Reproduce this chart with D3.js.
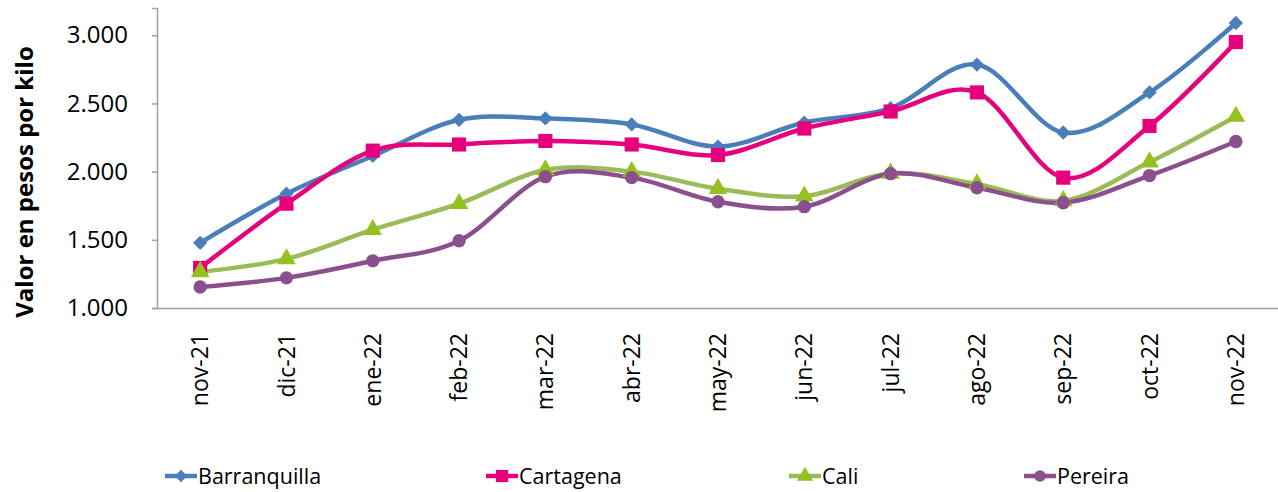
<!DOCTYPE html>
<html>
<head>
<meta charset="utf-8">
<script src="https://cdn.jsdelivr.net/npm/d3@7"></script>
<style>
  body { margin: 0; background: #fff; }
  text { font-family: "Open Sans", sans-serif; fill: #000; }
</style>
</head>
<body>
<svg></svg>
<script>
let width = 1278;
let height = 492;

// data
let months = ['nov-21','dic-21','ene-22','feb-22','mar-22','abr-22','may-22',
              'jun-22','jul-22','ago-22','sep-22','oct-22','nov-22'];
let barranquilla = [1478, 1838, 2115, 2380, 2390, 2346, 2184, 2360, 2465, 2785, 2287, 2581, 3090];
let cartagena    = [1294, 1765, 2154, 2199, 2225, 2199, 2122, 2316, 2441, 2581, 1956, 2335, 2950];
let cali         = [1265, 1360, 1574, 1765, 2012, 2000, 1875, 1820, 1988, 1910, 1787, 2070, 2405];
let pereira      = [1154, 1221, 1346, 1493, 1963, 1956, 1779, 1743, 1985, 1882, 1772, 1971, 2221];
let yTicks = [1000, 1500, 2000, 2500, 3000];

let series = [
  {name: 'Barranquilla', values: barranquilla, line: '#4a7ebb', mark: '#4a7ebb', shape: d3.symbolDiamond2, size: 130},
  {name: 'Cartagena',    values: cartagena,    line: '#e6007e', mark: '#e6007e', shape: d3.symbolSquare,  size: 200},
  {name: 'Cali',         values: cali,         line: '#9bbb59', mark: '#94c11f', shape: d3.symbolTriangle, size: 150},
  {name: 'Pereira',      values: pereira,      line: '#8c4f8e', mark: '#8c4f8e', shape: d3.symbolCircle,  size: 140}
];

let svg = d3.select('svg')
            .attr('width', width)
            .attr('height', height);

let x = d3.scaleBand()
          .domain(months)
          .range([157, 1279]);

let y = d3.scaleLinear()
          .domain([1000, 3200])
          .range([308, 8]);

// y axis
let yAxis = d3.axisLeft(y)
              .tickValues(yTicks)
              .tickSize(5)
              .tickFormat(d => d3.format(',')(d).replace(',', '.'));

let gy = svg.append('g')
            .attr('transform', 'translate(157,0)')
            .call(yAxis);
gy.select('.domain').attr('stroke', '#a0a0a0').attr('stroke-width', 1.5);
gy.selectAll('.tick line').attr('stroke', '#a0a0a0').attr('stroke-width', 1.5);
gy.selectAll('.tick text')
  .attr('x', -29)
  .style('font-size', '24px')
  .style('font-family', '"Open Sans", sans-serif');

// x axis
let xAxis = d3.axisBottom(x).tickSize(0);
let gx = svg.append('g')
            .attr('transform', 'translate(0,308)')
            .call(xAxis);
gx.select('.domain').attr('stroke', '#a0a0a0').attr('stroke-width', 1.5);
gx.selectAll('.tick text')
  .attr('transform', 'rotate(-90)')
  .attr('x', -25)
  .attr('y', 0)
  .attr('dy', '0.35em')
  .attr('text-anchor', 'end')
  .style('font-size', '23px')
  .style('font-family', '"Open Sans", sans-serif');

// y title
svg.append('text')
   .attr('transform', 'translate(33,182) rotate(-90)')
   .attr('text-anchor', 'middle')
   .style('font-size', '24px')
   .style('font-weight', 'bold')
   .text('Valor en pesos por kilo');

let cx = d => x(d) + x.bandwidth() / 2;

let line = d3.line()
             .x((d, i) => cx(months[i]))
             .y(d => y(d))
             .curve(d3.curveCardinal.tension(0));

series.forEach(s => {
  svg.append('path')
     .attr('d', line(s.values))
     .attr('fill', 'none')
     .attr('stroke', s.line)
     .attr('stroke-width', 4.5);
});

series.forEach(s => {
  svg.append('g')
     .selectAll('path')
     .data(s.values)
     .enter()
     .append('path')
     .attr('transform', (d, i) => 'translate(' + cx(months[i]) + ',' + y(d) + ')')
     .attr('d', d3.symbol().type(s.shape).size(s.size))
     .attr('fill', s.mark);
});

// legend
let legendX = [165, 486, 789, 1024];
let legend = svg.append('g');
series.forEach((s, i) => {
  let g = legend.append('g').attr('transform', 'translate(' + legendX[i] + ',476)');
  g.append('line')
   .attr('x1', 0).attr('x2', 32)
   .attr('stroke', s.line)
   .attr('stroke-width', 4.5);
  g.append('path')
   .attr('transform', 'translate(16,0)')
   .attr('d', d3.symbol().type(s.shape).size(s.size * 0.75))
   .attr('fill', s.mark);
  g.append('text')
   .attr('x', 33)
   .attr('dy', '0.35em')
   .style('font-size', '21.5px')
   .text(s.name);
});
</script>
</body>
</html>
